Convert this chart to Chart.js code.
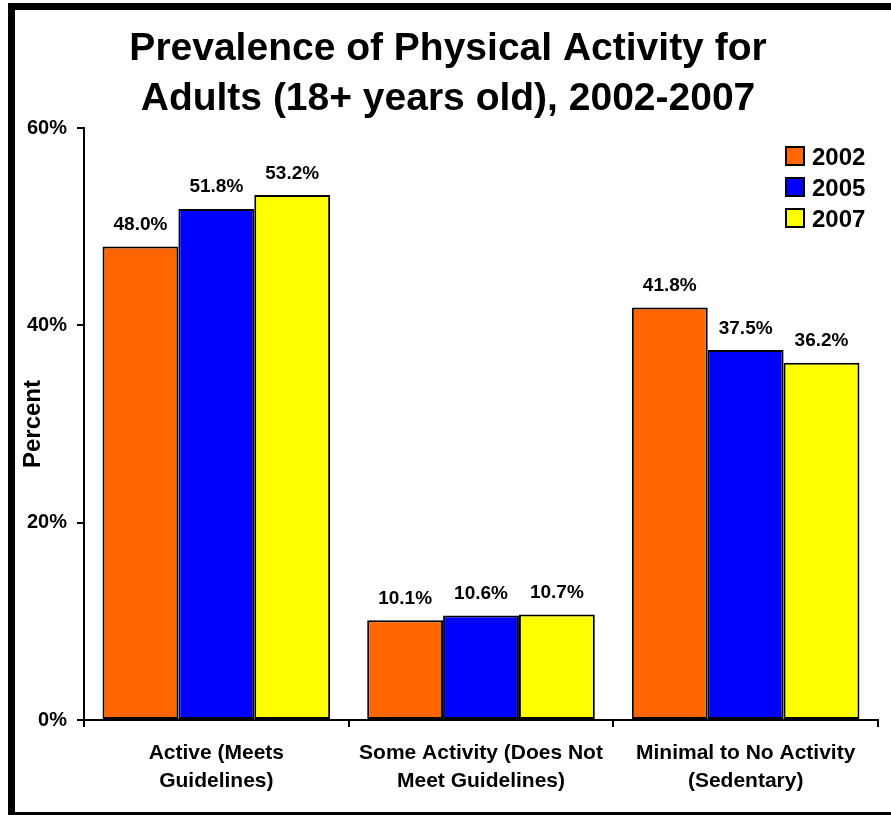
<!DOCTYPE html>
<html>
<head>
<meta charset="utf-8">
<title>Prevalence of Physical Activity for Adults</title>
<script src="https://cdn.jsdelivr.net/npm/chart.js@4/dist/chart.umd.min.js"></script>
<style>
  html, body { margin: 0; padding: 0; background: #fff; overflow: hidden; }
  #wrap { position: relative; width: 891px; height: 815px; }
</style>
</head>
<body>
<div id="wrap"><canvas id="chart" width="891" height="815"></canvas></div>
<script>
// data
const categories = [
  ["Active (Meets", "Guidelines)"],
  ["Some Activity (Does Not", "Meet Guidelines)"],
  ["Minimal to No Activity", "(Sedentary)"]
];
const years = ["2002", "2005", "2007"];
const values2002 = [48.0, 10.1, 41.8];
const values2005 = [51.8, 10.6, 37.5];
const values2007 = [53.2, 10.7, 36.2];
const yTicks = [0, 20, 40, 60];

const FONT = "'Liberation Sans', Arial, Helvetica, sans-serif";
const colors = ["#FF6600", "#0000FF", "#FFFF00"];

// outer black frame (right side falls off the picture)
const framePlugin = {
  id: "frame",
  afterDraw(chart) {
    const ctx = chart.ctx;
    ctx.save();
    ctx.strokeStyle = "#000";
    ctx.lineWidth = 7;
    ctx.strokeRect(11.5, 6.5, 1000, 809);
    ctx.restore();
  }
};

// value labels above bars
const barLabels = {
  id: "barLabels",
  afterDatasetsDraw(chart) {
    const ctx = chart.ctx;
    ctx.save();
    ctx.font = "bold 19px " + FONT;
    ctx.fillStyle = "#000";
    ctx.textAlign = "center";
    ctx.textBaseline = "alphabetic";
    chart.data.datasets.forEach((ds, i) => {
      chart.getDatasetMeta(i).data.forEach((bar, j) => {
        ctx.fillText(ds.data[j].toFixed(1) + "%", bar.x, bar.y - 16.5);
      });
    });
    ctx.restore();
  }
};

// legend inside the plot, top right
const boxLegend = {
  id: "boxLegend",
  afterDraw(chart) {
    const ctx = chart.ctx;
    const area = chart.chartArea;
    const x0 = area.right - 92;
    const y0 = area.top + 19;
    ctx.save();
    ctx.font = "bold 24px " + FONT;
    ctx.textAlign = "left";
    ctx.textBaseline = "alphabetic";
    chart.data.datasets.forEach((ds, i) => {
      const y = y0 + i * 31;
      ctx.fillStyle = ds.backgroundColor;
      ctx.fillRect(x0, y, 18, 18);
      ctx.lineWidth = 2;
      ctx.strokeStyle = "#000";
      ctx.strokeRect(x0, y, 18, 18);
      ctx.fillStyle = "#000";
      ctx.fillText(ds.label, x0 + 26, y + 18);
    });
    ctx.restore();
  }
};

const seriesValues = [values2002, values2005, values2007];

new Chart(document.getElementById("chart").getContext("2d"), {
  type: "bar",
  data: {
    labels: categories,
    datasets: years.map((y, i) => ({
      label: y,
      data: seriesValues[i],
      backgroundColor: colors[i],
      borderColor: "#000",
      borderWidth: 2,
      borderSkipped: false,
      categoryPercentage: 0.86,
      barPercentage: 1.0
    }))
  },
  options: {
    responsive: false,
    animation: false,
    devicePixelRatio: 1,
    layout: { padding: { left: 18, right: 13, top: 0, bottom: 0 } },
    plugins: {
      legend: { display: false },
      tooltip: { enabled: false },
      title: {
        display: true,
        text: ["Prevalence of Physical Activity for", "Adults (18+ years old), 2002-2007"],
        color: "#000",
        font: { family: FONT, size: 39, weight: "bold", lineHeight: "50px" },
        padding: { top: 24, bottom: 4 }
      }
    },
    scales: {
      x: {
        afterFit(scale) { scale.height = 95; },
        grid: {
          drawOnChartArea: false,
          drawTicks: true,
          tickLength: 7,
          color: "#000",
          lineWidth: 2
        },
        border: { color: "#000", width: 2 },
        ticks: {
          color: "#000",
          padding: 12,
          maxRotation: 0,
          font: { family: FONT, size: 21, weight: "bold", lineHeight: "28px" }
        }
      },
      y: {
        min: 0,
        max: 60,
        afterFit(scale) { scale.width = 66; },
        afterBuildTicks(scale) { scale.ticks = yTicks.map(v => ({ value: v })); },
        grid: {
          drawOnChartArea: false,
          drawTicks: true,
          tickLength: 7,
          color: "#000",
          lineWidth: 2
        },
        border: { color: "#000", width: 2 },
        ticks: {
          color: "#000",
          padding: 10,
          font: { family: FONT, size: 20, weight: "bold" },
          callback: v => v + "%"
        },
        title: {
          display: true,
          text: "Percent",
          color: "#000",
          padding: 0,
          font: { family: FONT, size: 24, weight: "bold", lineHeight: "30px" }
        }
      }
    }
  },
  plugins: [barLabels, boxLegend, framePlugin]
});
</script>
</body>
</html>
